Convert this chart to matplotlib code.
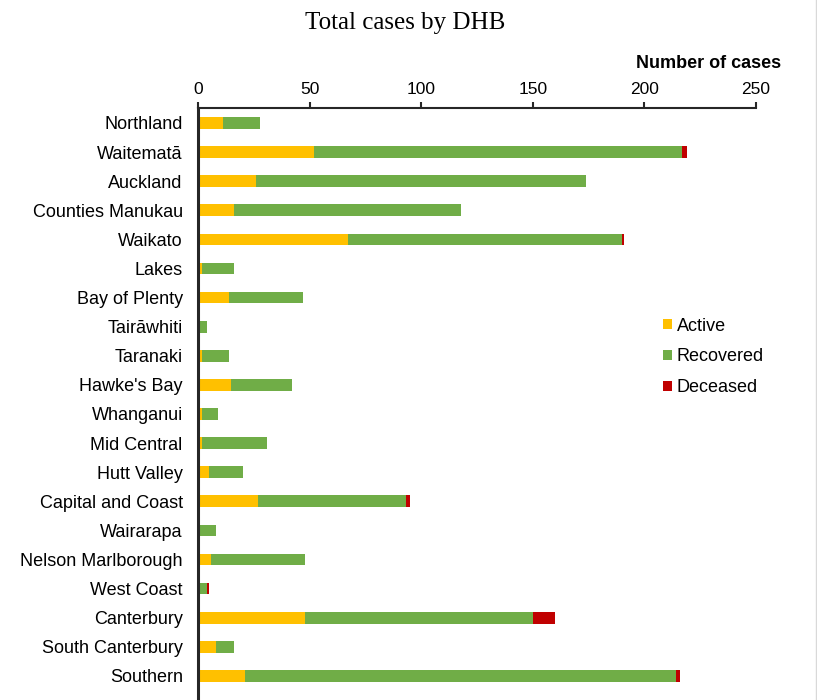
import matplotlib
matplotlib.use("Agg")
import matplotlib.pyplot as plt
from matplotlib.lines import Line2D
import numpy as np

categories = ["Northland", "Waitematā", "Auckland", "Counties Manukau", "Waikato",
              "Lakes", "Bay of Plenty", "Tairāwhiti", "Taranaki", "Hawke's Bay",
              "Whanganui", "Mid Central", "Hutt Valley", "Capital and Coast",
              "Wairarapa", "Nelson Marlborough", "West Coast", "Canterbury",
              "South Canterbury", "Southern"]
active = [11, 52, 26, 16, 67, 2, 14, 1, 2, 15, 2, 2, 5, 27, 0, 6, 0, 48, 8, 21]
recovered = [17, 165, 148, 102, 123, 14, 33, 3, 12, 27, 7, 29, 15, 66, 8, 42, 4, 102, 8, 193]
deceased = [0, 2, 0, 0, 1, 0, 0, 0, 0, 0, 0, 0, 0, 2, 0, 0, 1, 10, 0, 2]
xticks = [0, 50, 100, 150, 200, 250]

plt.rcParams['font.family'] = ['Liberation Sans', 'DejaVu Sans']

W, H = 817, 700
fig = plt.figure(figsize=(W / 100, H / 100), dpi=100)
ax = fig.add_axes([198 / W, 0, (756 - 198) / W, 1 - 108 / H])

y = np.arange(len(categories))
a = np.array(active)
r = np.array(recovered)
d = np.array(deceased)
h = 0.4
b1 = ax.barh(y, a, height=h, color="#FFC000", label="Active")
b2 = ax.barh(y, r, left=a, height=h, color="#70AD47", label="Recovered")
b3 = ax.barh(y, d, left=a + r, height=h, color="#C00000", label="Deceased")

ax.set_xlim(0, 250)
ax.set_ylim((700 - 123) / 29.1, -15 / 29.1)
ax.set_yticks(y)
ax.set_yticklabels(categories, fontsize=13)
ax.set_xticks(xticks)
ax.xaxis.tick_top()
ax.tick_params(axis='x', which='major', direction='out', length=4, width=1.5,
               color="#262626", labelsize=12.5, pad=4, labelcolor="#000000")
ax.tick_params(axis='y', length=0, pad=11, labelcolor="#000000")
for s in ["right", "bottom"]:
    ax.spines[s].set_visible(False)
ax.spines["top"].set_linewidth(1.5)
ax.spines["top"].set_color("#262626")
ax.spines["left"].set_linewidth(2.2)
ax.spines["left"].set_color("#262626")

fig.text(781 / W, 1 - 63 / H, "Number of cases", ha="right", va="center",
         fontsize=13, fontweight="bold")
fig.text(405 / W, 1 - 23 / H, "Total cases by DHB", ha="center", va="center",
         fontsize=18, family="Liberation Serif")

fig.legend(handles=[b1, b2, b3], loc="center left",
           bbox_to_anchor=(663 / W, 1 - 357 / H), frameon=False,
           fontsize=13, handlelength=0.5, handleheight=0.5, handletextpad=0.25,
           labelspacing=0.77, borderpad=0, borderaxespad=0)

fig.add_artist(Line2D([815.5 / W, 815.5 / W], [0, 1], color="#d9d9d9", lw=1))

fig.savefig("out.png", dpi=100)
